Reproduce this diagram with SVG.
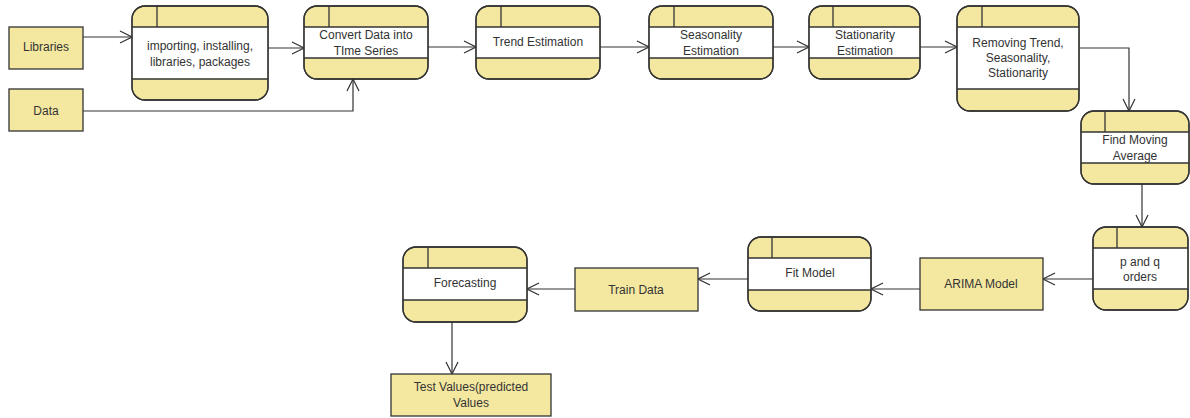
<svg xmlns="http://www.w3.org/2000/svg" width="1190" height="418" viewBox="0 0 1190 418">
<style>
.y{fill:#F4E8A0;stroke:#333;stroke-width:1.3}
.w{fill:#fff;stroke:none}
.o{fill:none;stroke:#333;stroke-width:1.3}
.l{stroke:#333;stroke-width:1.3}
.c{fill:none;stroke:#333;stroke-width:1.2}
text{font-family:"Liberation Sans",Arial,sans-serif;font-size:12px;fill:#333;text-anchor:middle}
</style>
<defs>
<marker id="a" markerWidth="14" markerHeight="14" refX="13" refY="7" orient="auto" markerUnits="userSpaceOnUse">
<path d="M1,1 L13,7 L1,13" fill="none" stroke="#333" stroke-width="1.2"/>
</marker>
</defs>
<rect width="1190" height="418" fill="#fff"/>
<g id="connectors">
<path class="c" d="M83,37 H132" marker-end="url(#a)"/>
<path class="c" d="M83,111 H353 V79" marker-end="url(#a)"/>
<path class="c" d="M268,48 H304" marker-end="url(#a)"/>
<path class="c" d="M428,47 H476" marker-end="url(#a)"/>
<path class="c" d="M600,47 H649" marker-end="url(#a)"/>
<path class="c" d="M773,47 H809" marker-end="url(#a)"/>
<path class="c" d="M920,47 H957" marker-end="url(#a)"/>
<path class="c" d="M1079,48 H1129 V111" marker-end="url(#a)"/>
<path class="c" d="M1142,184 V227" marker-end="url(#a)"/>
<path class="c" d="M1093,279 H1043" marker-end="url(#a)"/>
<path class="c" d="M920,289 H871" marker-end="url(#a)"/>
<path class="c" d="M748,279 H698" marker-end="url(#a)"/>
<path class="c" d="M575,289 H527" marker-end="url(#a)"/>
<path class="c" d="M452,322 V374" marker-end="url(#a)"/>
</g>
<g id="libraries"><rect class="y" x="9" y="27" width="74" height="42"/><text x="46" y="51">Libraries</text></g>
<g id="data"><rect class="y" x="9" y="89" width="74" height="42"/><text x="46" y="115">Data</text></g>
<g id="importing">
<rect class="y" x="132" y="6" width="136" height="94" rx="13"/>
<rect class="w" x="132.7" y="27" width="134.6" height="52"/>
<line class="l" x1="132" y1="27" x2="268" y2="27"/><line class="l" x1="132" y1="79" x2="268" y2="79"/><line class="l" x1="157" y1="6" x2="157" y2="27"/>
<rect class="o" x="132" y="6" width="136" height="94" rx="13"/>
<text x="200" y="50">importing, installing,</text><text x="200" y="66">libraries, packages</text>
</g>
<g id="convert">
<rect class="y" x="304" y="6" width="124" height="73" rx="13"/>
<rect class="w" x="304.7" y="27" width="122.6" height="31"/>
<line class="l" x1="304" y1="27" x2="428" y2="27"/><line class="l" x1="304" y1="58" x2="428" y2="58"/><line class="l" x1="329" y1="6" x2="329" y2="27"/>
<rect class="o" x="304" y="6" width="124" height="73" rx="13"/>
<text x="366" y="39">Convert Data into</text><text x="366" y="55">TIme Series</text>
</g>
<g id="trend">
<rect class="y" x="476" y="6" width="124" height="73" rx="13"/>
<rect class="w" x="476.7" y="27" width="122.6" height="31"/>
<line class="l" x1="476" y1="27" x2="600" y2="27"/><line class="l" x1="476" y1="58" x2="600" y2="58"/><line class="l" x1="501" y1="6" x2="501" y2="27"/>
<rect class="o" x="476" y="6" width="124" height="73" rx="13"/>
<text x="538" y="46">Trend Estimation</text>
</g>
<g id="seasonality">
<rect class="y" x="649" y="6" width="124" height="73" rx="13"/>
<rect class="w" x="649.7" y="27" width="122.6" height="31"/>
<line class="l" x1="649" y1="27" x2="773" y2="27"/><line class="l" x1="649" y1="58" x2="773" y2="58"/><line class="l" x1="674" y1="6" x2="674" y2="27"/>
<rect class="o" x="649" y="6" width="124" height="73" rx="13"/>
<text x="711" y="39">Seasonality</text><text x="711" y="55">Estimation</text>
</g>
<g id="stationarity">
<rect class="y" x="809" y="6" width="111" height="73" rx="13"/>
<rect class="w" x="809.7" y="27" width="109.6" height="31"/>
<line class="l" x1="809" y1="27" x2="920" y2="27"/><line class="l" x1="809" y1="58" x2="920" y2="58"/><line class="l" x1="833" y1="6" x2="833" y2="27"/>
<rect class="o" x="809" y="6" width="111" height="73" rx="13"/>
<text x="865" y="39">Stationarity</text><text x="865" y="55">Estimation</text>
</g>
<g id="removing">
<rect class="y" x="957" y="6" width="122" height="105" rx="13"/>
<rect class="w" x="957.7" y="27" width="120.6" height="62"/>
<line class="l" x1="957" y1="27" x2="1079" y2="27"/><line class="l" x1="957" y1="89" x2="1079" y2="89"/><line class="l" x1="982" y1="6" x2="982" y2="27"/>
<rect class="o" x="957" y="6" width="122" height="105" rx="13"/>
<text x="1018" y="47">Removing Trend,</text><text x="1018" y="62">Seasonality,</text><text x="1018" y="77">Stationarity</text>
</g>
<g id="moving">
<rect class="y" x="1081" y="111" width="108" height="73" rx="13"/>
<rect class="w" x="1081.7" y="132" width="106.6" height="31"/>
<line class="l" x1="1081" y1="132" x2="1189" y2="132"/><line class="l" x1="1081" y1="163" x2="1189" y2="163"/><line class="l" x1="1105" y1="111" x2="1105" y2="132"/>
<rect class="o" x="1081" y="111" width="108" height="73" rx="13"/>
<text x="1135" y="144">Find Moving</text><text x="1135" y="160">Average</text>
</g>
<g id="pq">
<rect class="y" x="1093" y="227" width="95" height="83" rx="13"/>
<rect class="w" x="1093.7" y="248" width="93.6" height="41"/>
<line class="l" x1="1093" y1="248" x2="1188" y2="248"/><line class="l" x1="1093" y1="289" x2="1188" y2="289"/><line class="l" x1="1117" y1="227" x2="1117" y2="248"/>
<rect class="o" x="1093" y="227" width="95" height="83" rx="13"/>
<text x="1140" y="266">p and q</text><text x="1140" y="281">orders</text>
</g>
<g id="arima"><rect class="y" x="920" y="258" width="123" height="52"/><text x="981" y="288">ARIMA Model</text></g>
<g id="fit">
<rect class="y" x="748" y="237" width="123" height="74" rx="13"/>
<rect class="w" x="748.7" y="258" width="121.6" height="32"/>
<line class="l" x1="748" y1="258" x2="871" y2="258"/><line class="l" x1="748" y1="290" x2="871" y2="290"/><line class="l" x1="772" y1="237" x2="772" y2="258"/>
<rect class="o" x="748" y="237" width="123" height="74" rx="13"/>
<text x="810" y="277">Fit Model</text>
</g>
<g id="train"><rect class="y" x="575" y="268" width="123" height="43"/><text x="636" y="294">Train Data</text></g>
<g id="forecasting">
<rect class="y" x="403" y="247" width="124" height="75" rx="13"/>
<rect class="w" x="403.7" y="268" width="122.6" height="32"/>
<line class="l" x1="403" y1="268" x2="527" y2="268"/><line class="l" x1="403" y1="300" x2="527" y2="300"/><line class="l" x1="428" y1="247" x2="428" y2="268"/>
<rect class="o" x="403" y="247" width="124" height="75" rx="13"/>
<text x="465" y="287">Forecasting</text>
</g>
<g id="test"><rect class="y" x="391" y="374" width="160" height="42"/><text x="471" y="391">Test Values(predicted</text><text x="471" y="407">Values</text></g>
</svg>
